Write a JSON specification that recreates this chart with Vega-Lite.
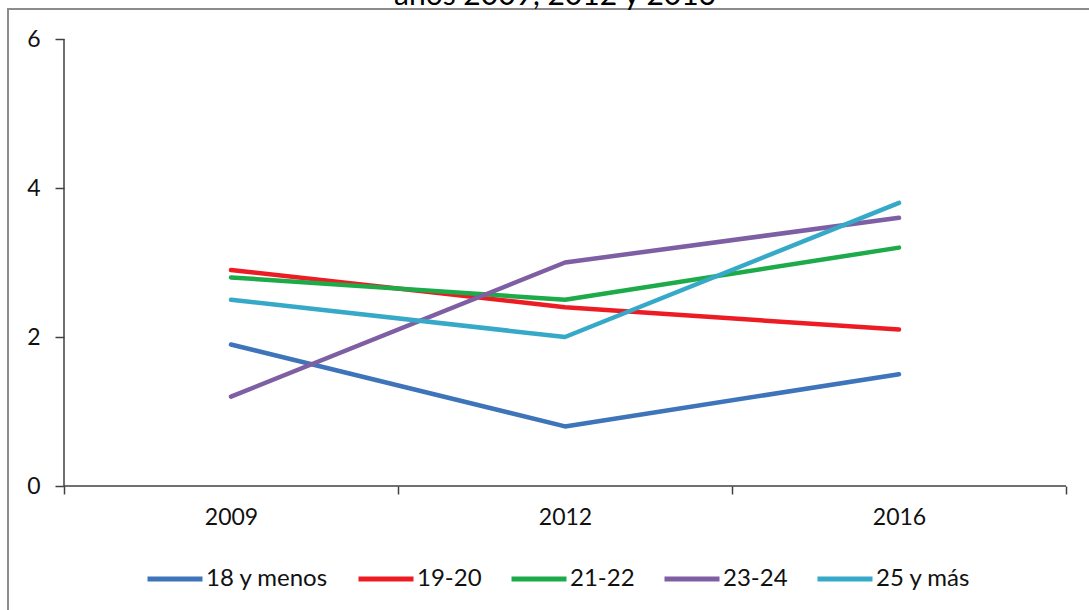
{
  "$schema": "https://vega.github.io/schema/vega-lite/v6.json",
  "width": 1114,
  "height": 610,
  "autosize": {"type": "none"},
  "padding": {"left": 8, "top": 9, "right": 0, "bottom": 0},
  "background": "white",
  "title": {
    "text": "años 2009, 2012 y 2016",
    "font": "Lato",
    "fontSize": 30,
    "fontWeight": "normal",
    "color": "#000000",
    "anchor": "middle",
    "offset": 0,
    "dx": -10,
    "dy": 2
  },
  "layer": [
    {
      "data": {
        "values": [
          {"year": "2009", "group": "18 y menos", "value": 1.9},
          {"year": "2012", "group": "18 y menos", "value": 0.8},
          {"year": "2016", "group": "18 y menos", "value": 1.5},
          {"year": "2009", "group": "19-20", "value": 2.9},
          {"year": "2012", "group": "19-20", "value": 2.4},
          {"year": "2016", "group": "19-20", "value": 2.1},
          {"year": "2009", "group": "21-22", "value": 2.8},
          {"year": "2012", "group": "21-22", "value": 2.5},
          {"year": "2016", "group": "21-22", "value": 3.2},
          {"year": "2009", "group": "23-24", "value": 1.2},
          {"year": "2012", "group": "23-24", "value": 3.0},
          {"year": "2016", "group": "23-24", "value": 3.6},
          {"year": "2009", "group": "25 y más", "value": 2.5},
          {"year": "2012", "group": "25 y más", "value": 2.0},
          {"year": "2016", "group": "25 y más", "value": 3.8}
        ]
      },
      "mark": {"type": "line", "strokeWidth": 4.5, "strokeCap": "round", "strokeJoin": "round"},
      "encoding": {
        "x": {
          "field": "year",
          "type": "ordinal",
          "scale": {"type": "band", "domain": ["2009", "2012", "2016"], "paddingInner": 0, "paddingOuter": 0.16766},
          "axis": {
            "title": null,
            "domain": false,
            "grid": false,
            "tickBand": "extent",
            "tickSize": 8,
            "tickColor": "#404040",
            "tickWidth": 1.5,
            "labelAngle": 0,
            "labelFont": "Lato",
            "labelFontSize": 23,
            "labelColor": "#111111",
            "labelPadding": 12,
            "offset": -133
          }
        },
        "y": {
          "field": "value",
          "type": "quantitative",
          "scale": {"domain": [-1.7852, 6.4027], "nice": false, "zero": false},
          "axis": {
            "title": null,
            "domain": false,
            "grid": false,
            "values": [0, 2, 4, 6],
            "format": "d",
            "tickSize": 9,
            "tickColor": "#404040",
            "tickWidth": 1.5,
            "labelFont": "Lato",
            "labelFontSize": 23,
            "labelColor": "#111111",
            "labelPadding": 15,
            "offset": -56
          }
        },
        "color": {
          "field": "group",
          "type": "nominal",
          "scale": {
            "domain": ["18 y menos", "19-20", "21-22", "23-24", "25 y más"],
            "range": ["#3E74B9", "#ED1C24", "#1DAB4A", "#7E5FA3", "#37A9C8"]
          },
          "legend": {
            "orient": "none",
            "legendX": 137,
            "legendY": 540,
            "direction": "horizontal",
            "title": null,
            "symbolType": "stroke",
            "symbolSize": 3025,
            "symbolStrokeWidth": 5,
            "labelFont": "Lato",
            "labelFontSize": 24,
            "labelColor": "#111111",
            "labelOffset": 1,
            "columnPadding": 19
          }
        }
      }
    },
    {
      "data": {"values": [{"year": "2009", "year_end": "2016", "value": 0}]},
      "mark": {"type": "rule", "color": "#404040", "strokeWidth": 1.5},
      "encoding": {
        "x": {"field": "year", "type": "ordinal", "bandPosition": 0},
        "x2": {"field": "year_end", "bandPosition": 1},
        "y": {"field": "value", "type": "quantitative"}
      }
    },
    {
      "data": {"values": [{"year": "2009", "value": 0, "value_end": 6}]},
      "mark": {"type": "rule", "color": "#404040", "strokeWidth": 1.5},
      "encoding": {
        "x": {"field": "year", "type": "ordinal", "bandPosition": 0},
        "y": {"field": "value", "type": "quantitative"},
        "y2": {"field": "value_end"}
      }
    }
  ],
  "config": {
    "view": {"stroke": "#8C8C8C", "strokeWidth": 2}
  }
}
